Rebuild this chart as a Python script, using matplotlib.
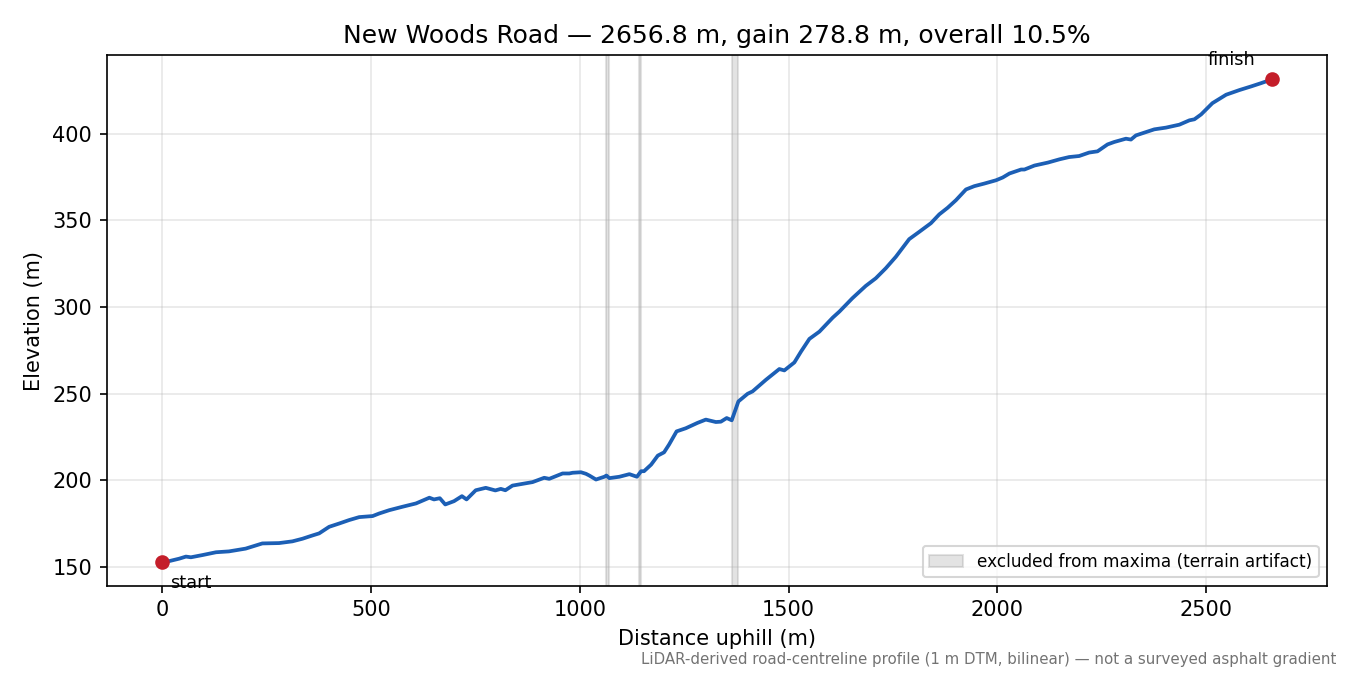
import numpy as np
import matplotlib
matplotlib.use("Agg")
import matplotlib.pyplot as plt

# profile
dist = [0, 17, 41, 57, 69, 97, 129, 160, 200, 220, 240, 280, 312, 336, 360, 376,
        400, 424, 448, 472, 504, 520, 544, 576, 608, 640, 651, 665, 678, 699, 718,
        729, 751, 775, 798, 811, 822, 839, 887, 915, 927, 959, 975, 983, 1003, 1015,
        1023, 1039, 1059, 1064, 1071, 1095, 1119, 1137, 1147, 1154, 1171, 1187, 1202,
        1214, 1232, 1254, 1282, 1302, 1326, 1338, 1352, 1364, 1380, 1402, 1414, 1446,
        1478, 1490, 1514, 1530, 1550, 1574, 1606, 1622, 1653, 1685, 1709, 1733, 1757,
        1789, 1813, 1841, 1861, 1881, 1901, 1925, 1945, 1969, 1997, 2013, 2029, 2057,
        2065, 2089, 2121, 2149, 2172, 2196, 2220, 2240, 2264, 2280, 2308, 2320, 2332,
        2352, 2376, 2404, 2436, 2460, 2472, 2488, 2515, 2548, 2580, 2608, 2632, 2656.8]
elev = [152.9, 153.3, 154.7, 155.9, 155.5, 156.8, 158.4, 158.9, 160.5, 162.0, 163.5,
        163.7, 164.7, 166.2, 168.1, 169.3, 173.1, 175.0, 177.0, 178.7, 179.3, 180.8,
        182.7, 184.7, 186.6, 189.9, 188.9, 189.6, 186.0, 187.9, 190.8, 188.9, 194.2,
        195.6, 194.1, 195.0, 194.2, 196.9, 198.9, 201.4, 200.8, 203.9, 203.9, 204.3,
        204.6, 203.7, 202.7, 200.4, 202.0, 202.7, 201.2, 202.0, 203.5, 202.0, 205.2,
        205.2, 209.0, 214.2, 216.1, 220.6, 228.2, 230.0, 233.1, 235.0, 233.6, 233.8,
        235.9, 234.6, 245.5, 249.9, 251.3, 258.0, 264.2, 263.4, 268.0, 274.3, 281.6,
        285.8, 293.9, 297.4, 305.1, 312.2, 316.6, 322.4, 329.0, 339.2, 343.4, 348.4,
        353.5, 357.3, 361.7, 367.9, 369.8, 371.3, 373.2, 374.8, 377.1, 379.4, 379.4,
        381.7, 383.4, 385.3, 386.6, 387.2, 389.2, 389.9, 393.9, 395.3, 397.2, 396.7,
        399.1, 400.7, 402.6, 403.6, 405.3, 407.8, 408.4, 411.2, 417.7, 422.6, 425.3,
        427.4, 429.3, 431.4]

# excluded stretches (start, end) in m
excluded = [(1062, 1069), (1141, 1147), (1364, 1379)]

title = "New Woods Road \u2014 2656.8 m, gain 278.8 m, overall 10.5%"
note = "LiDAR-derived road-centreline profile (1 m DTM, bilinear) \u2014 not a surveyed asphalt gradient"

fig, ax = plt.subplots(figsize=(9, 4.5), dpi=150)
fig.subplots_adjust(left=0.079, right=0.983, top=0.918, bottom=0.132)

for i, (a, b) in enumerate(excluded):
    ax.axvspan(a, b, color='0.5', alpha=0.22,
               label="excluded from maxima (terrain artifact)" if i == 0 else None)

ax.plot(dist, elev, color='#1c5fb5', lw=1.8)
ax.plot([dist[0], dist[-1]], [elev[0], elev[-1]], 'o', color='#c41e2a', ms=6)
ax.annotate("start", (dist[0], elev[0]), xytext=(4, -6), textcoords='offset points',
            ha='left', va='top', fontsize=8.5)
ax.annotate("finish", (dist[-1], elev[-1]), xytext=(-8, 5), textcoords='offset points',
            ha='right', va='bottom', fontsize=8.5)

ax.set_xlabel("Distance uphill (m)")
ax.set_ylabel("Elevation (m)")
ax.set_title(title, fontsize=12)
ax.grid(True, alpha=0.3)
ax.legend(loc='lower right', fontsize=8.1)

fig.text(0.99, 0.012, note, ha='right', va='bottom', fontsize=7.2, color='0.45')

plt.savefig("out.png", dpi=150)
